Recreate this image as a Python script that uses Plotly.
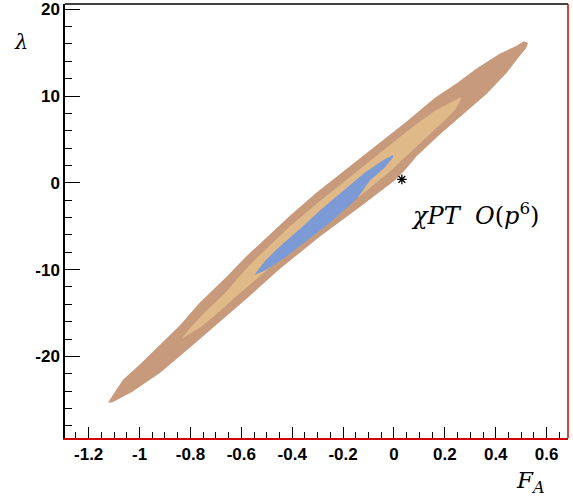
import plotly.graph_objects as go

# ---- data ----
# outer contour (brown)
outer_x = [-1.124, -1.097, -1.065, -0.998, -0.920, -0.841, -0.763, -0.664, -0.578, -0.487, -0.409,
           -0.303, -0.212, -0.114, -0.035, 0.051, 0.161, 0.244, 0.326, 0.417, 0.476, 0.511, 0.527,
           0.519, 0.483, 0.444, 0.366, 0.271, 0.181, 0.090, 0.047, 0.004, -0.134, -0.291, -0.448,
           -0.566, -0.664, -0.790, -0.920, -1.030, -1.108]
outer_y = [-25.3, -24.1, -22.7, -20.9, -18.7, -16.4, -13.8, -11.0, -8.4, -5.95, -3.8,
           -1.1, 0.98, 3.3, 5.1, 7.1, 9.8, 11.4, 13.2, 14.9, 15.7, 16.3, 16.1,
           15.5, 14.2, 12.7, 10.3, 7.9, 5.6, 3.1, 1.6, 0.3, -2.8, -6.2, -9.9,
           -13.0, -15.5, -18.7, -21.9, -24.1, -25.3]

# middle contour (tan)
middle_x = [-0.833, -0.794, -0.743, -0.664, -0.566, -0.409, -0.291, -0.173, -0.055, 0.063, 0.161,
            0.228, 0.263, 0.263, 0.240, 0.200, 0.142, 0.063, -0.016, -0.134, -0.291, -0.409,
            -0.527, -0.625, -0.704, -0.763, -0.810, -0.833]
middle_y = [-17.9, -16.5, -14.9, -12.7, -9.4, -5.0, -2.1, 0.64, 3.4, 6.2, 8.3,
            9.3, 9.9, 9.6, 8.4, 7.2, 5.6, 3.5, 1.3, -1.56, -4.9, -7.8,
            -10.7, -13.2, -15.3, -16.7, -17.5, -18.0]

# inner contour (blue)
inner_x = [-0.546, -0.507, -0.448, -0.369, -0.291, -0.200, -0.114, -0.043, -0.004,
           -0.004, -0.035, -0.094, -0.145, -0.252, -0.330, -0.428, -0.507, -0.546]
inner_y = [-10.5, -9.0, -7.3, -5.3, -3.2, -0.9, 1.2, 2.6, 3.2,
           2.95, 1.8, 0.29, -1.8, -4.6, -6.4, -8.6, -10.1, -10.6]

# chiPT O(p^6) prediction
pred_x = [0.031]
pred_y = [0.4]
pred_label = "<i>χPT  O</i>(<i>p</i><sup>6</sup>)"

x_tickvals = [-1.2, -1.0, -0.8, -0.6, -0.4, -0.2, 0.0, 0.2, 0.4, 0.6]
x_ticktext = ["-1.2", "-1", "-0.8", "-0.6", "-0.4", "-0.2", "0", "0.2", "0.4", "0.6"]
y_tickvals = [-20, -10, 0, 10, 20]
y_ticktext = ["-20", "-10", "0", "10", "20"]

x_range = [-1.293, 0.684]
y_range = [-29.4, 20.6]

colors = {"outer": "#C79A7C", "middle": "#DFB988", "inner": "#7B9AD6"}

fig = go.Figure()
for xs, ys, c in [(outer_x, outer_y, colors["outer"]),
                  (middle_x, middle_y, colors["middle"]),
                  (inner_x, inner_y, colors["inner"])]:
    fig.add_trace(go.Scatter(x=xs, y=ys, mode="lines", fill="toself", fillcolor=c,
                             line=dict(width=0, color=c), hoverinfo="skip", showlegend=False))

fig.add_trace(go.Scatter(x=pred_x, y=pred_y, mode="markers", showlegend=False, hoverinfo="skip",
                         marker=dict(symbol="asterisk", size=8, color="black",
                                     line=dict(width=1.3, color="black"))))

tickfont = dict(family="Liberation Sans, Arial, sans-serif", size=17, color="black")

fig.update_layout(
    width=573, height=500,
    margin=dict(l=65, r=5, t=4, b=62, autoexpand=False),
    paper_bgcolor="white", plot_bgcolor="white",
    xaxis=dict(range=x_range, showgrid=False, zeroline=False, automargin=False,
               showline=True, linecolor="#D00000", linewidth=1.5,
               ticks="inside", ticklen=11, tickwidth=1, tickcolor="black",
               tickmode="array", tickvals=x_tickvals,
               ticktext=["<b>%s</b>" % t for t in x_ticktext],
               tickangle=0, tickfont=tickfont,
               minor=dict(ticks="inside", ticklen=6, dtick=0.05, tick0=0, tickcolor="black", showgrid=False)),
    yaxis=dict(range=y_range, showgrid=False, zeroline=False, automargin=False,
               showline=True, linecolor="black", linewidth=1.5,
               ticks="inside", ticklen=15, tickwidth=1, tickcolor="black",
               tickmode="array", tickvals=y_tickvals,
               ticktext=["<b>%s</b>" % t for t in y_ticktext],
               tickfont=tickfont,
               minor=dict(ticks="inside", ticklen=7, dtick=2, tick0=0, tickcolor="black", showgrid=False)),
    shapes=[
        dict(type="line", xref="paper", yref="paper", x0=0, x1=1, y0=1, y1=1,
             line=dict(color="black", width=1.5)),
        dict(type="line", xref="paper", yref="paper", x0=1, x1=1, y0=0, y1=1,
             line=dict(color="#D00000", width=1.5)),
    ],
    annotations=[
        dict(x=pred_x[0] + 0.028, y=pred_y[0] - 4.0, xref="x", yref="y", text=pred_label,
             showarrow=False, xanchor="left", yanchor="middle",
             font=dict(family="DejaVu Serif, serif", size=24, color="black")),
        dict(x=-0.087, y=0.913, xref="paper", yref="paper", text="<i>λ</i>",
             showarrow=False, xanchor="center", yanchor="middle",
             font=dict(family="DejaVu Serif, serif", size=21, color="black")),
        dict(x=0.926, y=-0.101, xref="paper", yref="paper", text="<i>F</i><sub><i>A</i></sub>",
             showarrow=False, xanchor="center", yanchor="middle",
             font=dict(family="DejaVu Serif, serif", size=23, color="black")),
    ],
)

fig.write_html("out.html", config={"displayModeBar": False},
               post_script="document.body.style.margin='0';")
